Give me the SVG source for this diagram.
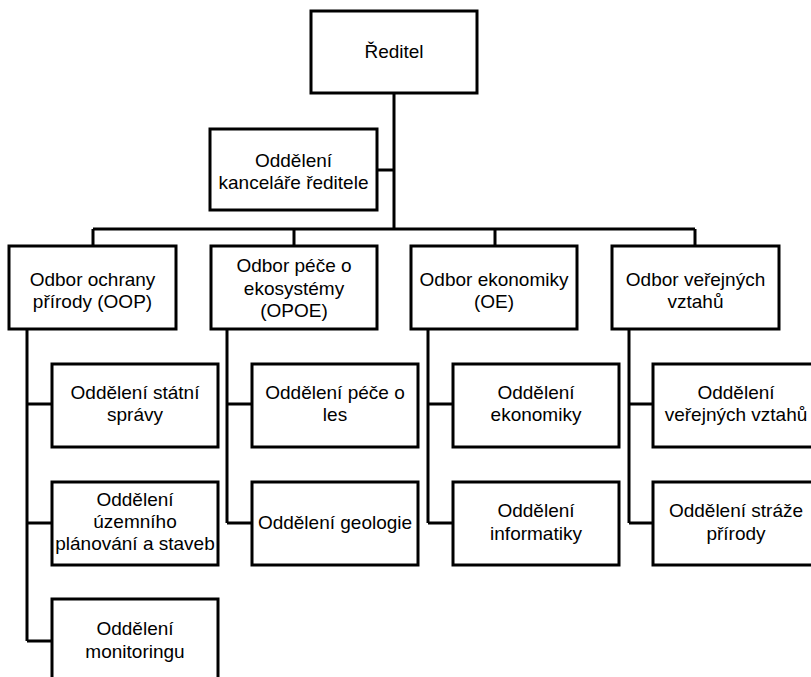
<svg xmlns="http://www.w3.org/2000/svg" width="811" height="677" viewBox="0 0 811 677">
<style>
.box{fill:#fff;stroke:#000;stroke-width:3}
.ln{fill:none;stroke:#000;stroke-width:3}
text{font-family:"Liberation Sans",Arial,sans-serif;font-size:19px;fill:#000;text-anchor:middle}
</style>
<rect width="811" height="677" fill="#fff"/>
<g id="connectors">
<path class="ln" d="M394,93 V229 M377,170 H394 M93,229 H695 M93,229 V246 M294,229 V246 M495,229 V246 M695,229 V246"/>
<path class="ln" d="M27,329 V641 M27,404 H52 M27,523 H52 M27,641 H52"/>
<path class="ln" d="M227,329 V523 M227,404 H252 M227,523 H252"/>
<path class="ln" d="M428,329 V523 M428,404 H453 M428,523 H453"/>
<path class="ln" d="M629,329 V523 M629,404 H653 M629,523 H653"/>
</g>
<g id="reditel"><rect class="box" x="311" y="11" width="166" height="82"/><text x="394" y="58">Ředitel</text></g>
<g id="kancelar"><rect class="box" x="210" y="129" width="167" height="81"/><text x="293.5" y="166.5">Oddělení</text><text x="293.5" y="188.5">kanceláře ředitele</text></g>
<g id="oop"><rect class="box" x="9" y="246" width="167" height="83"/><text x="92.5" y="285.5">Odbor ochrany</text><text x="92.5" y="308">přírody (OOP)</text></g>
<g id="opoe"><rect class="box" x="211" y="246" width="166" height="83"/><text x="294" y="272">Odbor péče o</text><text x="294" y="294.5">ekosystémy</text><text x="294" y="317">(OPOE)</text></g>
<g id="oe"><rect class="box" x="411" y="246" width="166" height="83"/><text x="494" y="285.5">Odbor ekonomiky</text><text x="494" y="308">(OE)</text></g>
<g id="ovv"><rect class="box" x="612" y="246" width="167" height="83"/><text x="695.5" y="285.5">Odbor veřejných</text><text x="695.5" y="308">vztahů</text></g>
<g id="statni-sprava"><rect class="box" x="52" y="364" width="166" height="83"/><text x="135" y="398.5">Oddělení státní</text><text x="135" y="420.5">správy</text></g>
<g id="uzemni"><rect class="box" x="52" y="482" width="166" height="83"/><text x="135" y="505.5">Oddělení</text><text x="135" y="528">územního</text><text x="135" y="550">plánování a staveb</text></g>
<g id="monitoring"><rect class="box" x="52" y="599" width="166" height="83"/><text x="135" y="635">Oddělení</text><text x="135" y="658">monitoringu</text></g>
<g id="pece-les"><rect class="box" x="252" y="364" width="166" height="83"/><text x="335" y="398.5">Oddělení péče o</text><text x="335" y="420.5">les</text></g>
<g id="geologie"><rect class="box" x="252" y="482" width="166" height="83"/><text x="335" y="528.5">Oddělení geologie</text></g>
<g id="ekonomiky"><rect class="box" x="453" y="364" width="166" height="83"/><text x="536" y="398.5">Oddělení</text><text x="536" y="420.5">ekonomiky</text></g>
<g id="informatiky"><rect class="box" x="453" y="482" width="166" height="83"/><text x="536" y="517">Oddělení</text><text x="536" y="540">informatiky</text></g>
<g id="vv"><rect class="box" x="653" y="364" width="166" height="83"/><text x="736" y="398.5">Oddělení</text><text x="736" y="420.5">veřejných vztahů</text></g>
<g id="straze"><rect class="box" x="653" y="482" width="166" height="83"/><text x="736" y="517">Oddělení stráže</text><text x="736" y="540">přírody</text></g>
</svg>
